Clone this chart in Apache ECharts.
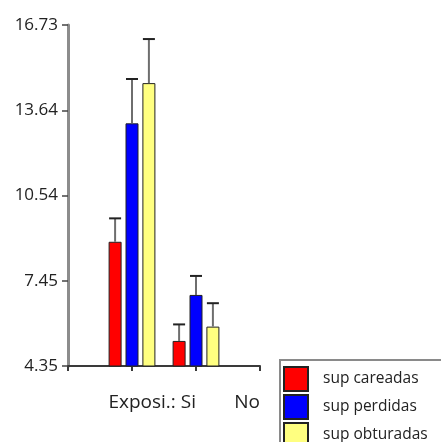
<!DOCTYPE html>
<html>
<head>
<meta charset="utf-8">
<script src="https://cdn.jsdelivr.net/npm/echarts@6/dist/echarts.min.js"></script>
<style>
  html, body { margin: 0; padding: 0; background: #fff; }
  #chart { width: 441px; height: 442px; }
</style>
</head>
<body>
<div id="chart"></div>
<script>
// Exposure groups and the three surface measures (means and upper error limits)
const categories = ['Si', 'No'];
const seriesNames = ['sup careadas', 'sup perdidas', 'sup obturadas'];
const careadas = [8.86, 5.26];
const perdidas = [13.16, 6.93];
const obturadas = [14.62, 5.78];
const careadasUpper = [9.71, 5.86];
const perdidasUpper = [14.77, 7.62];
const obturadasUpper = [16.22, 6.63];
const tickValues = [4.35, 7.445, 10.54, 13.635, 16.73];
const tickLabels = ['4.35', '7.45', '10.54', '13.64', '16.73'];
const colors = ['#ff0000', '#0000ff', '#ffff80'];

const means = [careadas, perdidas, obturadas];
const uppers = [careadasUpper, perdidasUpper, obturadasUpper];

// Padded category list so the two groups sit at 1/3 and 2/3 of the axis
const axisCats = [''].concat(categories, ['']);
const pad = arr => ['-'].concat(arr, ['-']);

const BAR_W = 13;
const BAR_GAP = 0.3;
const step = BAR_W * (1 + BAR_GAP);

const font = '"Open Sans", Lato, sans-serif';
const textColor = '#222';

const barSeries = means.map((vals, i) => ({
  name: seriesNames[i],
  type: 'bar',
  data: pad(vals),
  barWidth: BAR_W,
  barGap: (BAR_GAP * 100) + '%',
  itemStyle: { color: colors[i], borderColor: '#222', borderWidth: 1 },
  z: 2
}));

const errSeries = means.map((vals, i) => ({
  type: 'custom',
  name: seriesNames[i] + ' err',
  z: 3,
  silent: true,
  data: vals.map((v, j) => [j + 1, v, uppers[i][j]]),
  renderItem: (params, api) => {
    const c = api.value(0);
    const off = (i - 1) * step;
    const p0 = api.coord([c, api.value(1)]);
    const p1 = api.coord([c, api.value(2)]);
    const x = p0[0] + off;
    return {
      type: 'group',
      children: [
        { type: 'line', shape: { x1: x, y1: p0[1], x2: x, y2: p1[1] },
          style: { stroke: '#6e6e6e', lineWidth: 2 } },
        { type: 'line', shape: { x1: x - 6, y1: p1[1], x2: x + 6, y2: p1[1] },
          style: { stroke: '#222', lineWidth: 2 } }
      ]
    };
  }
}));

const chart = echarts.init(document.getElementById('chart'), null, { renderer: 'canvas' });
chart.setOption({
  animation: false,
  backgroundColor: '#ffffff',
  grid: { left: 68, right: 181, top: 25, bottom: 76 },
  legend: {
    data: seriesNames,
    orient: 'vertical',
    left: 280,
    top: 360,
    height: 100,
    itemWidth: 24,
    itemHeight: 24,
    itemGap: 2,
    padding: [6, 30, 6, 3],
    borderColor: '#8a8a8a',
    borderWidth: 2,
    backgroundColor: '#ffffff',
    icon: 'rect',
    textStyle: { fontFamily: font, fontSize: 15.5, color: textColor, padding: [0, 0, 0, 10] }
  },
  xAxis: {
    type: 'category',
    data: axisCats,
    boundaryGap: false,
    axisLine: { lineStyle: { color: '#3a3a3a', width: 2 } },
    axisTick: { show: true, length: 5, lineStyle: { color: '#3a3a3a', width: 2 } },
    axisLabel: {
      interval: 0,
      align: 'right',
      margin: 27,
      fontFamily: font,
      fontSize: 19,
      color: textColor,
      formatter: (v, idx) => {
        if (idx === 2) return 'Exposi.: ' + axisCats[1];
        if (idx === 3) return axisCats[2];
        return '';
      }
    },
    splitLine: { show: false }
  },
  yAxis: {
    type: 'value',
    min: tickValues[0],
    max: tickValues[tickValues.length - 1],
    axisLine: { show: true, lineStyle: { color: '#8c8c8c', width: 3 } },
    axisTick: { show: true, length: 6, customValues: tickValues, lineStyle: { color: '#444', width: 1.5 } },
    axisLabel: {
      customValues: tickValues,
      margin: 10,
      fontFamily: font,
      fontSize: 17,
      color: textColor,
      formatter: v => {
        const k = tickValues.findIndex(t => Math.abs(t - v) < 1e-6);
        return k >= 0 ? tickLabels[k] : '';
      }
    },
    splitLine: { show: false }
  },
  series: barSeries.concat(errSeries)
});
</script>
</body>
</html>
